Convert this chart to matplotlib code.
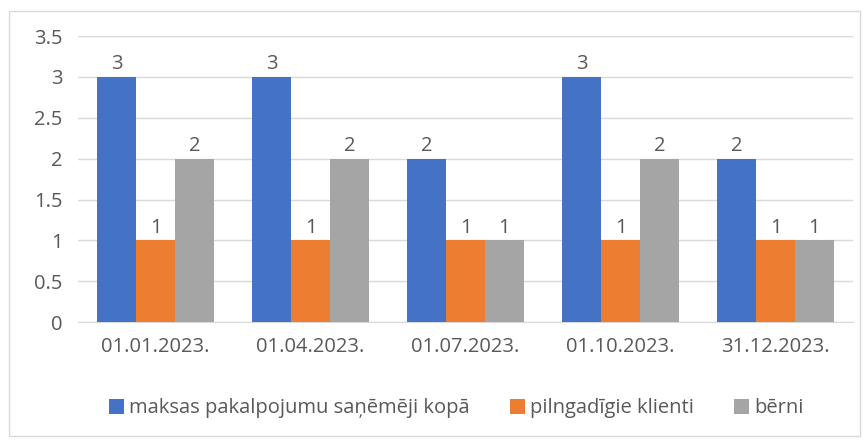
import numpy as np
import matplotlib
matplotlib.use("Agg")
import matplotlib.pyplot as plt
from matplotlib.patches import Rectangle

categories = ["01.01.2023.", "01.04.2023.", "01.07.2023.", "01.10.2023.", "31.12.2023."]
series_names = ["maksas pakalpojumu saņēmēji kopā", "pilngadīgie klienti", "bērni"]
kopa = [3, 3, 2, 3, 2]
pieauguso = [1, 1, 1, 1, 1]
berni = [2, 2, 1, 2, 1]
colors = ["#4472C4", "#ED7D31", "#A5A5A5"]
text_color = "#595959"

plt.rcParams["font.family"] = ["Open Sans", "DejaVu Sans"]

fig = plt.figure(figsize=(8.64, 4.4), dpi=100)
ax = fig.add_axes([0.0903, 0.268, 0.897, 0.65])

x = np.arange(len(categories))
w = 0.25
for i, (vals, name) in enumerate(zip([kopa, pieauguso, berni], series_names)):
    bars = ax.bar(x + (i - 1) * w, vals, w, color=colors[i], label=name, zorder=3)
    for b, v in zip(bars, vals):
        ax.text(b.get_x() + b.get_width() / 2, v + 0.03, str(v), ha="center", va="bottom",
                fontsize=14.5, color=text_color)

ax.set_xlim(-0.5, len(categories) - 0.5)
ax.set_ylim(0, 3.5)
ax.set_yticks(np.arange(0, 3.51, 0.5))
ax.set_yticklabels(["0", "0.5", "1", "1.5", "2", "2.5", "3", "3.5"])
ax.set_xticks(x)
ax.set_xticklabels(categories)
ax.tick_params(axis="both", length=0, labelsize=14.5, labelcolor=text_color)
ax.tick_params(axis="y", pad=11)
ax.tick_params(axis="x", pad=11)
ax.grid(axis="y", color="#D9D9D9", linewidth=1, zorder=0)
for s in ["top", "right", "left"]:
    ax.spines[s].set_visible(False)
ax.spines["bottom"].set_color("#D9D9D9")

fig.legend(loc="center", bbox_to_anchor=(0.528, 0.072), ncol=3, frameon=False,
           fontsize=14.5, labelcolor=text_color, handlelength=0.75, handleheight=0.75,
           handletextpad=0.25, columnspacing=2.0)

fig.patches.append(Rectangle((0.01, 0.01), 0.985, 0.965, transform=fig.transFigure,
                             fill=False, edgecolor="#D9D9D9", linewidth=1))

fig.savefig("out.png", dpi=100, facecolor="white")
